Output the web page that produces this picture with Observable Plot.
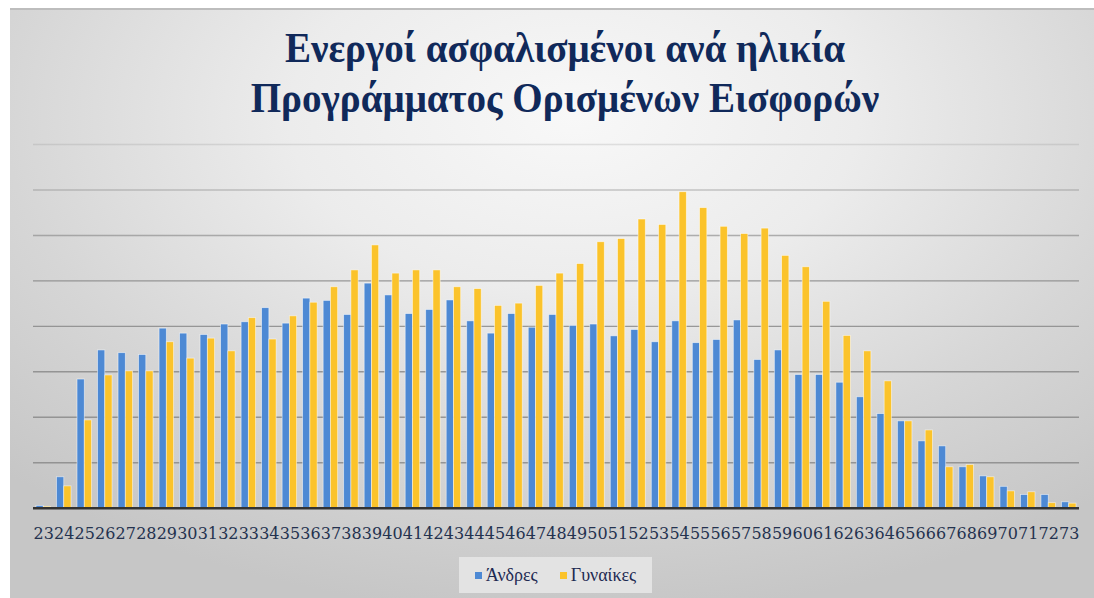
<!DOCTYPE html>
<html>
<head>
<meta charset="utf-8">
<script src="https://cdn.jsdelivr.net/npm/d3@7"></script>
<script src="https://cdn.jsdelivr.net/npm/@observablehq/plot@0.6"></script>
<style>
  html, body { margin: 0; padding: 0; background: #ffffff; width: 1094px; height: 598px; overflow: hidden; }
  #panel {
    position: absolute; left: 10px; top: 8px; width: 1084px; height: 590px;
    border-top: 2px solid #bdbdbd; box-sizing: border-box;
    background: radial-gradient(ellipse 75% 85% at 52% 18%, #f8f8f8 0%, #ececec 35%, #d6d6d6 70%, #c6c6c6 100%);
  }
  #title {
    position: absolute; left: 565px; top: 23px; transform: translateX(-50%) scaleX(0.93);
    white-space: nowrap; text-align: center;
    font-family: "Liberation Serif", serif; font-weight: bold; font-size: 42px; line-height: 50px;
    color: #10295a;
  }
  #chart { position: absolute; left: 0; top: 100px; }
  #chart svg g[aria-label="x-axis tick label"] text { font-family: "DejaVu Serif", serif; font-size: 16px; fill: #24324f; }
  #legend {
    position: absolute; left: 459px; top: 557px; width: 193px; height: 36px;
    background: #e3e3e3; display: flex; align-items: center; justify-content: center; gap: 22px;
    font-family: "Liberation Serif", serif; font-size: 18px; color: #1e2a52;
  }
  .item { display: flex; align-items: center; gap: 4px; }
  .sw { width: 7px; height: 7px; display: inline-block; }
</style>
</head>
<body>
<div id="panel"></div>
<div id="title">Ενεργοί ασφαλισμένοι ανά ηλικία<br>Προγράμματος Ορισμένων Εισφορών</div>
<div id="chart"></div>
<div id="legend"></div>
<script>
const ages = [23,24,25,26,27,28,29,30,31,32,33,34,35,36,37,38,39,40,41,42,43,44,45,46,47,48,49,50,51,52,53,54,55,56,57,58,59,60,61,62,63,64,65,66,67,68,69,70,71,72,73];
const men = [5,68,283,347,341,337,395,384,381,404,409,440,406,461,456,425,494,468,427,436,457,411,384,427,397,425,401,404,378,392,365,411,363,370,413,326,347,293,293,276,244,207,191,147,136,90,70,47,29,29,13];
const women = [3,48,193,292,301,301,365,329,373,345,418,371,422,452,486,523,578,516,523,523,486,482,445,450,489,516,537,585,592,635,623,695,660,619,603,615,555,530,454,379,345,279,191,171,90,95,68,37,35,11,10];
const seriesNames = ["Άνδρες", "Γυναίκες"];
const seriesColors = ["#4d89d4", "#fbc32b"];
const gridValues = [100,200,300,400,500,600,700,800];

const menData = ages.map((a, i) => ({age: String(a), value: men[i]}));
const womenData = ages.map((a, i) => ({age: String(a), value: women[i]}));

const chart = Plot.plot({
  width: 1094,
  height: 450,
  marginTop: 44,
  marginBottom: 42.3,
  marginLeft: 33,
  marginRight: 15,
  style: {background: "transparent", overflow: "visible"},
  x: {domain: ages.map(String), padding: 0, round: false, label: null},
  y: {domain: [0, 800], axis: null},
  marks: [
    Plot.ruleY(gridValues, {stroke: "#8a8a8a", strokeWidth: 1.4, strokeOpacity: d => d <= 500 ? 0.85 : d === 600 ? 0.65 : d === 700 ? 0.45 : 0.22}),
    Plot.barY(menData, {x: "age", y: "value", fill: seriesColors[0], stroke: "#ffffff", strokeOpacity: 0.6, strokeWidth: 0.8, insetLeft: 3, insetRight: 10.25}),
    Plot.barY(womenData, {x: "age", y: "value", fill: seriesColors[1], stroke: "#ffffff", strokeOpacity: 0.6, strokeWidth: 0.8, insetLeft: 10.25, insetRight: 3}),
    Plot.ruleY([0], {stroke: "#333333", strokeWidth: 2.6}),
    Plot.axisX({tickSize: 0, tickPadding: 19, fontSize: 16, fill: "#24324f", label: null})
  ]
});
document.getElementById("chart").appendChild(chart);

const legend = document.getElementById("legend");
seriesNames.forEach((name, i) => {
  const item = document.createElement("span");
  item.className = "item";
  const sw = document.createElement("span");
  sw.className = "sw";
  sw.style.background = seriesColors[i];
  const t = document.createElement("span");
  t.textContent = name;
  item.appendChild(sw);
  item.appendChild(t);
  legend.appendChild(item);
});
</script>
</body>
</html>
